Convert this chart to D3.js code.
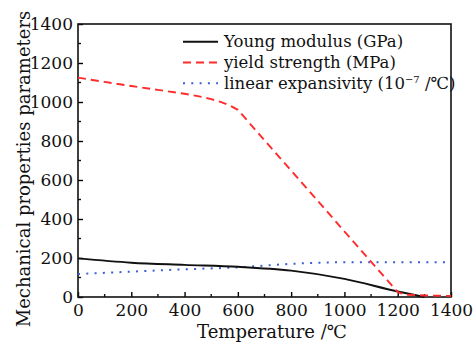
<!DOCTYPE html>
<html>
<head>
<meta charset="utf-8">
<script src="https://cdn.jsdelivr.net/npm/d3@7"></script>
<style>
  html, body { margin: 0; padding: 0; background: #fff; }
  svg text { font-family: "DejaVu Serif", "Liberation Serif", serif; fill: #111; }
</style>
</head>
<body>
<svg id="chart" width="474" height="342"></svg>
<script>
// Temperature (°C) sample points for each property
const youngTemp = [0, 200, 400, 600, 800, 1000, 1200, 1300];
const youngVals = [198, 176, 165, 155, 135, 93, 28, 0];

const yieldTemp = [0, 100, 200, 300, 400, 450, 500, 540, 570, 600, 1200, 1230, 1300, 1400];
const yieldVals = [1125, 1103, 1082, 1062, 1042, 1030, 1015, 998, 982, 960, 25, 12, 8, 5];

const expTemp = [0, 200, 400, 600, 800, 1000, 1200, 1400];
const expVals = [118, 130, 142, 152, 170, 178, 178, 178];

const xTicks = [0, 200, 400, 600, 800, 1000, 1200, 1400];
const yTicks = [0, 200, 400, 600, 800, 1000, 1200, 1400];

const legendLabels = ["Young modulus (GPa)", "yield strength (MPa)", "linear expansivity (10"];

const FONT = "DejaVu Serif";
const svg = d3.select("#chart");
const plotL = 78, plotR = 451, plotT = 24, plotB = 297;

const x = d3.scaleLinear().domain([0, 1400]).range([plotL, plotR]);
const y = d3.scaleLinear().domain([0, 1400]).range([plotB, plotT]);

// Inward ticks: major every 200, minor every 100
const minor = d3.range(100, 1400, 200);
const gx = svg.append("g").attr("transform", `translate(0,${plotB})`);
gx.call(d3.axisBottom(x).tickValues(xTicks).tickSize(-5).tickPadding(7).tickFormat(d3.format("d")));
gx.attr("font-family", FONT).attr("font-size", 17);
gx.select(".domain").remove();
gx.append("g").selectAll("line").data(minor).join("line")
  .attr("x1", d => x(d)).attr("x2", d => x(d)).attr("y1", 0).attr("y2", -3)
  .attr("stroke", "#111").attr("stroke-width", 1.4);
gx.selectAll(".tick line").attr("stroke-width", 1.4);

const gy = svg.append("g").attr("transform", `translate(${plotL},0)`);
gy.call(d3.axisLeft(y).tickValues(yTicks).tickSize(-5).tickPadding(5).tickFormat(d3.format("d")));
gy.attr("font-family", FONT).attr("font-size", 17);
gy.select(".domain").remove();
gy.append("g").selectAll("line").data(minor).join("line")
  .attr("y1", d => y(d)).attr("y2", d => y(d)).attr("x1", 0).attr("x2", 3)
  .attr("stroke", "#111").attr("stroke-width", 1.4);
gy.selectAll(".tick line").attr("stroke-width", 1.4);
svg.selectAll(".tick text").style("font-family", FONT).attr("fill", "#111");

// Frame
svg.append("rect")
  .attr("x", plotL).attr("y", plotT)
  .attr("width", plotR - plotL).attr("height", plotB - plotT)
  .attr("fill", "none").attr("stroke", "#111").attr("stroke-width", 1.6);

// Axis titles
svg.append("text")
  .attr("x", 272).attr("y", 338)
  .attr("text-anchor", "middle").attr("font-size", 18)
  .text("Temperature /\u2103");

svg.append("text")
  .attr("transform", `translate(30,${(13 + 325) / 2}) rotate(-90)`)
  .attr("text-anchor", "middle").attr("font-size", 18)
  .text("Mechanical properties parameters");

// Series
const smooth = d3.line().x(d => x(d[0])).y(d => y(d[1])).curve(d3.curveMonotoneX);
const straight = d3.line().x(d => x(d[0])).y(d => y(d[1]));

svg.append("path")
  .datum(d3.zip(expTemp, expVals))
  .attr("d", smooth).attr("fill", "none")
  .attr("stroke", "#3a5fd0").attr("stroke-width", 2)
  .attr("stroke-dasharray", "2,6.3");

svg.append("path")
  .datum(d3.zip(youngTemp, youngVals))
  .attr("d", smooth).attr("fill", "none")
  .attr("stroke", "#111").attr("stroke-width", 1.9);

svg.append("path")
  .datum(d3.zip(yieldTemp, yieldVals))
  .attr("d", straight).attr("fill", "none")
  .attr("stroke", "#ff2a2a").attr("stroke-width", 1.9)
  .attr("stroke-dasharray", "8,5");

// Legend
const legendStyles = [
  { stroke: "#111", dash: null },
  { stroke: "#ff2a2a", dash: "8,5" },
  { stroke: "#3a5fd0", dash: "2,6.3" }
];
const lg = svg.append("g");
legendLabels.forEach((label, i) => {
  const ly = 41.7 + i * 20.8;
  lg.append("line")
    .attr("x1", 183).attr("x2", 218).attr("y1", ly).attr("y2", ly)
    .attr("stroke", legendStyles[i].stroke).attr("stroke-width", i === 0 ? 1.9 : 2)
    .attr("stroke-dasharray", legendStyles[i].dash);
  const t = lg.append("text")
    .attr("x", 224).attr("y", ly + 5.5).attr("font-size", 16.5);
  t.append("tspan").text(label);
  if (i === 2) {
    t.append("tspan").attr("font-size", 10).attr("dy", -6).text("\u22127");
    t.append("tspan").attr("dy", 6).text(" /\u2103)");
  }
});
</script>
</body>
</html>
